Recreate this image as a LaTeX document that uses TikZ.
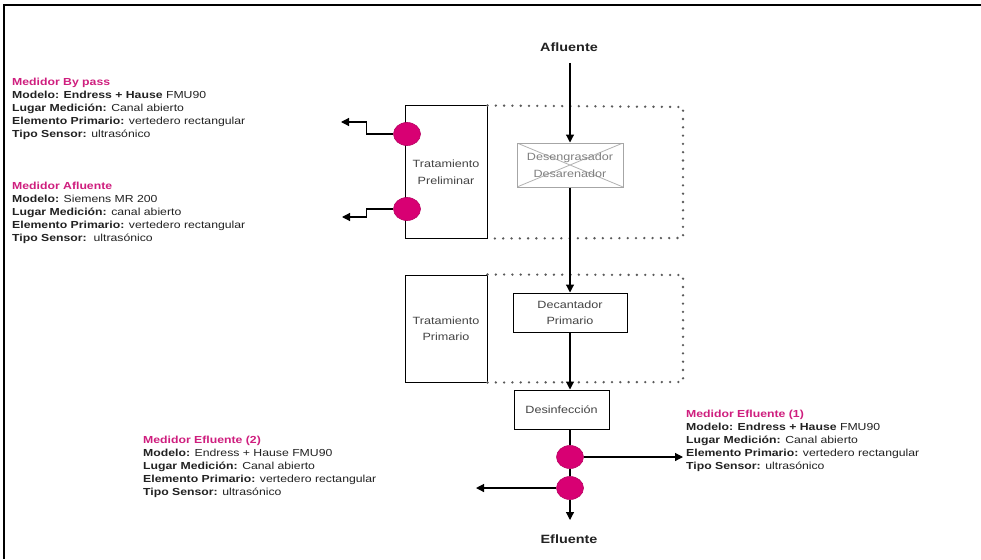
\documentclass[tikz,border=0pt]{standalone}
\usepackage{fontspec}
\setmainfont[FakeStretch=1.2]{Liberation Sans}
\usetikzlibrary{arrows.meta,shapes.geometric}
\definecolor{mag}{HTML}{D80073}
\definecolor{magt}{HTML}{CF1E7E}
\definecolor{txt}{HTML}{222222}
\definecolor{boxt}{HTML}{444444}
\definecolor{dotc}{HTML}{5A5A5A}
\newcommand\smallfnt{\fontsize{10.2}{13}\selectfont}
\newcommand\boxfnt{\fontsize{10.5}{16.5}\selectfont}
\newcommand\bigfnt{\fontsize{12}{14}\selectfont\bfseries}
\tikzset{
  info/.style={anchor=north west, inner sep=0pt, align=left, font=\smallfnt, text=txt},
  stage/.style={draw=black, line width=1pt, align=center, font=\boxfnt, text=boxt, inner sep=0pt},
  meter/.style={ellipse, fill=mag, draw=mag!85!black, line width=0.6pt, minimum width=27pt, minimum height=23pt, inner sep=0pt},
  flow/.style={draw=black, line width=1.2pt},
  arr/.style={flow, -{Triangle[length=8pt,width=8pt]}},
  dots/.style={draw=dotc, line width=2.6pt, line cap=round, dash pattern=on 0pt off 8.3pt},
  title/.style={font=\bigfnt, text=txt, inner sep=0pt}
}
\begin{document}
\begin{tikzpicture}[x=1pt,y=-1pt]
\useasboundingbox (0,0) rectangle (981,559);
\fill[white] (0,0) rectangle (981,559);
% frame
\draw[line width=1.8pt] (3,5) -- (981,5);
\draw[line width=1.8pt] (4,5) -- (4,559);

% stage boxes
\node[stage, minimum width=82pt, minimum height=132pt] (prel) at (446,172) {Tratamiento\\Preliminar};
\node[stage, minimum width=82pt, minimum height=107pt] (prim) at (446,328.5) {Tratamiento\\Primario};
\node[stage, draw=gray!70, text=gray, minimum width=106pt, minimum height=44pt,
  path picture={\draw[gray!60, line width=0.8pt] (path picture bounding box.north west) -- (path picture bounding box.south east)
    (path picture bounding box.north east) -- (path picture bounding box.south west);}] (des) at (570,165) {Desengrasador\\Desarenador};
\node[stage, minimum width=114pt, minimum height=39pt] (dec) at (570,312.5) {Decantador\\Primario};
\node[stage, minimum width=95pt, minimum height=39pt] (dsf) at (561.5,409.5) {Desinfección};

% dotted regions
\coordinate (d1a) at (683,107);
\coordinate (d1b) at (683,238);
\coordinate (d2a) at (683,275);
\coordinate (d2b) at (683,382);
\draw[dots] (prel.north east) -- (d1a) -- (d1b) -- (prel.south east);
\draw[dots] (prim.north east) -- (d2a) -- (d2b) -- (prim.south east);

% titles
\node[title] (afl) at (569,47) {Afluente};
\node[title] (efl) at (569,539) {Efluente};
\coordinate (ain) at (570,63);
\coordinate (eout) at (570,520);

% meters
\node[meter] (p1) at (407,134) {};
\node[meter] (p2) at (407,209) {};
\node[meter] (e1) at (570,457) {};
\node[meter] (e2) at (570,488) {};

\coordinate (b1tip) at (341,122);
\coordinate (b2tip) at (342,217);
\coordinate (m1tip) at (683,457);
\coordinate (m2tip) at (476,488);

% flow
\draw[arr] (ain) -- (des.north);
\draw[arr] (des.south) -- (dec.north);
\draw[arr] (dec.south) -- (dec.south |- dsf.north);
\draw[flow] (dec.south |- dsf.south) -- (e1.north);
\draw[flow] (e1.south) -- (e2.north);
\draw[arr] (e2.south) -- (eout);
\draw[arr] (e1.east) -- (m1tip);
\draw[arr] (e2.west) -- (m2tip);
\draw[arr] (p1.west) -- ++(-27,0) |- (b1tip);
\draw[arr] (p2.west) -- ++(-27,0) |- (b2tip);

% info blocks
\node[info] (t1) at (12,78) {\textcolor{magt}{\textbf{Medidor By pass}}\\
\textbf{Modelo:} \textbf{Endress + Hause} FMU90\\
\textbf{Lugar Medición:} Canal abierto\\
\textbf{Elemento Primario:} vertedero rectangular\\
\textbf{Tipo Sensor:} ultrasónico};
\node[info] (t2) at (12,182) {\textcolor{magt}{\textbf{Medidor Afluente}}\\
\textbf{Modelo:} Siemens MR 200\\
\textbf{Lugar Medición:} canal abierto\\
\textbf{Elemento Primario:} vertedero rectangular\\
\textbf{Tipo Sensor:}\ \ ultrasónico};
\node[info] (t3) at (143,436) {\textcolor{magt}{\textbf{Medidor Efluente (2)}}\\
\textbf{Modelo:} Endress + Hause FMU90\\
\textbf{Lugar Medición:} Canal abierto\\
\textbf{Elemento Primario:} vertedero rectangular\\
\textbf{Tipo Sensor:} ultrasónico};
\node[info] (t4) at (686,410) {\textcolor{magt}{\textbf{Medidor Efluente (1)}}\\
\textbf{Modelo:} \textbf{Endress + Hause} FMU90\\
\textbf{Lugar Medición:} Canal abierto\\
\textbf{Elemento Primario:} vertedero rectangular\\
\textbf{Tipo Sensor:} ultrasónico};
\end{tikzpicture}
\end{document}
